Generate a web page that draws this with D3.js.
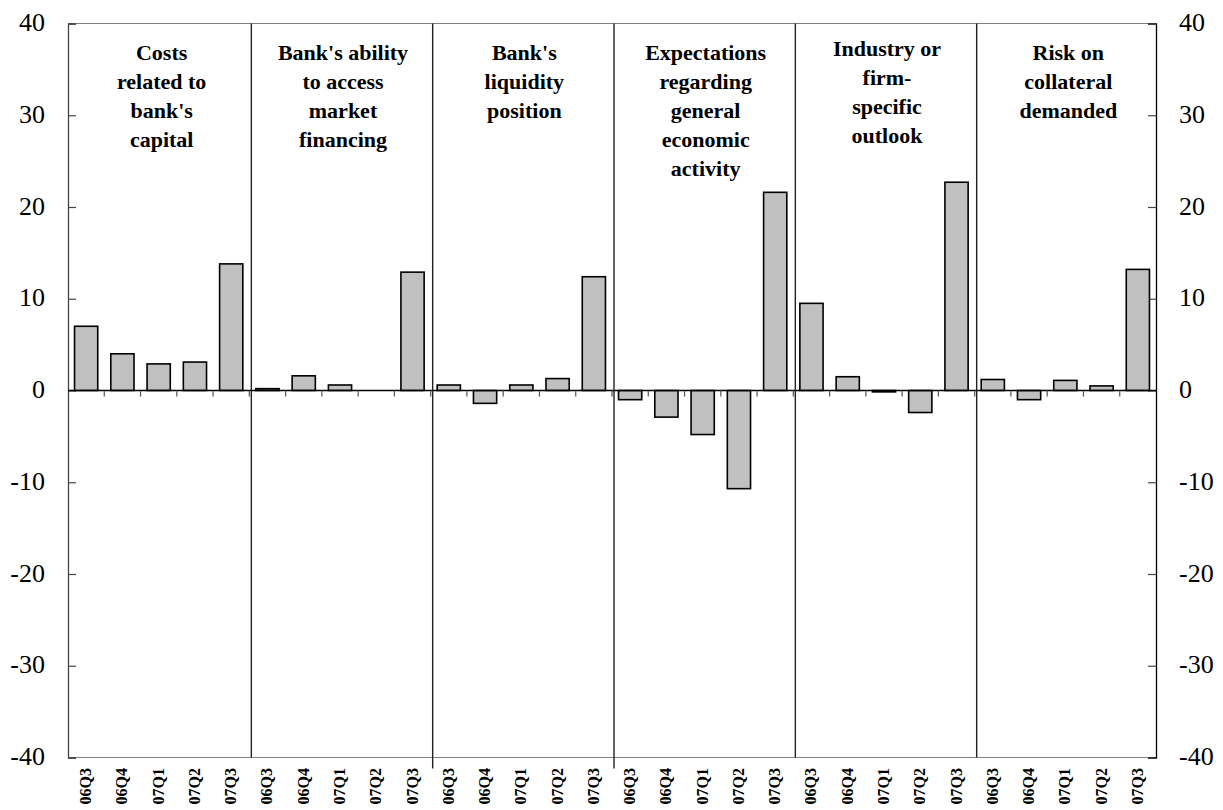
<!DOCTYPE html>
<html>
<head>
<meta charset="utf-8">
<script src="https://cdn.jsdelivr.net/npm/d3@7"></script>
<style>
  html, body { margin: 0; padding: 0; background: #fff; }
  #wrap { position: relative; width: 1223px; height: 810px; overflow: hidden;
          font-family: 'Liberation Serif', 'Times New Roman', serif; color: #000; }
  #wrap svg { position: absolute; left: 0; top: 0; display: block; }
  .lbl { position: absolute; white-space: nowrap; line-height: 1; font-family: 'Liberation Serif', 'Times New Roman', serif; }
</style>
</head>
<body>
<div id="wrap"><svg id="chart" width="1223" height="810"></svg></div>
<script>
// ---- Data ----
const groups = [
  "Costs related to bank's capital",
  "Bank's ability to access market financing",
  "Bank's liquidity position",
  "Expectations regarding general economic activity",
  "Industry or firm-specific outlook",
  "Risk on collateral demanded"
];
const groupTitleLines = [
  ["Costs", "related to", "bank's", "capital"],
  ["Bank's ability", "to access", "market", "financing"],
  ["Bank's", "liquidity", "position"],
  ["Expectations", "regarding", "general", "economic", "activity"],
  ["Industry or", "firm-", "specific", "outlook"],
  ["Risk on", "collateral", "demanded"]
];
const quarters = ["06Q3", "06Q4", "07Q1", "07Q2", "07Q3"];
const costsCapital      = [7.0, 4.0, 2.9, 3.1, 13.8];
const marketFinancing   = [0.2, 1.6, 0.6, 0.0, 12.9];
const liquidityPosition = [0.6, -1.4, 0.6, 1.3, 12.4];
const economicActivity  = [-1.0, -2.9, -4.8, -10.7, 21.6];
const industryOutlook   = [9.5, 1.5, -0.15, -2.4, 22.7];
const collateralRisk    = [1.2, -1.0, 1.1, 0.5, 13.2];
const yTicks = [-40, -30, -20, -10, 0, 10, 20, 30, 40];

const seriesByGroup = [costsCapital, marketFinancing, liquidityPosition,
                       economicActivity, industryOutlook, collateralRisk];

// build flat table
const rows = [];
seriesByGroup.forEach((vals, gi) => {
  vals.forEach((v, qi) => {
    rows.push({ key: gi + "-" + qi, group: gi, quarter: quarters[qi], value: v });
  });
});

// ---- Layout ----
const svg = d3.select("#chart");
const wrap = d3.select("#wrap");
const pLeft = 68, pRight = 1156, pTop = 23.5, pBottom = 757.5;

const x = d3.scaleBand()
  .domain(rows.map(d => d.key))
  .range([pLeft, pRight])
  .paddingInner(0.36)
  .paddingOuter(0.18);
const xb = d3.scaleBand().domain(rows.map(d => d.key)).range([pLeft, pRight]); // full bands
const y = d3.scaleLinear().domain([-40, 40]).range([pBottom, pTop]);

const fmt = d => String(d);
const BASE = 0.8375; // baseline offset (em) for Liberation Serif with line-height 1

// frame top & bottom
svg.append("line").attr("x1", pLeft).attr("x2", pRight).attr("y1", y(40)).attr("y2", y(40))
  .attr("stroke", "#808080").attr("stroke-width", 1.2);
svg.append("line").attr("x1", pLeft).attr("x2", pRight).attr("y1", y(-40)).attr("y2", y(-40))
  .attr("stroke", "#808080").attr("stroke-width", 1.2);

// axes (lines + ticks via d3.axis; labels as HTML text)
const gL = svg.append("g").attr("transform", `translate(${pLeft},0)`)
  .call(d3.axisLeft(y).tickValues(yTicks).tickSize(-8).tickFormat(""));
gL.select(".domain").attr("stroke", "#444").attr("stroke-width", 1.3);
gL.selectAll(".tick line").attr("stroke", "#444").attr("stroke-width", 1.2);

const gR = svg.append("g").attr("transform", `translate(${pRight},0)`)
  .call(d3.axisRight(y).tickValues(yTicks).tickSize(-8).tickFormat(""));
gR.select(".domain").attr("stroke", "#000").attr("stroke-width", 1.3);
gR.selectAll(".tick line").attr("stroke", "#444").attr("stroke-width", 1.2);

const yFs = 26;
wrap.selectAll("div.yl").data(yTicks).join("div")
  .attr("class", "lbl yl")
  .style("font-size", yFs + "px")
  .style("right", (1223 - (pLeft - 23)) + "px")
  .style("top", d => (y(d) - 0.5175 * yFs) + "px")
  .style("text-align", "right")
  .text(fmt);
wrap.selectAll("div.yr").data(yTicks).join("div")
  .attr("class", "lbl yr")
  .style("font-size", yFs + "px")
  .style("left", (pRight + 23) + "px")
  .style("top", d => (y(d) - 0.5175 * yFs) + "px")
  .text(fmt);

// bars
svg.append("g").selectAll("rect").data(rows).join("rect")
  .attr("x", d => x(d.key))
  .attr("width", x.bandwidth())
  .attr("y", d => y(Math.max(0, d.value)))
  .attr("height", d => Math.abs(y(d.value) - y(0)))
  .attr("fill", "#c0c0c0")
  .attr("stroke", "#000")
  .attr("stroke-width", 1.6);

// zero line + category ticks
svg.append("line").attr("x1", pLeft).attr("x2", pRight).attr("y1", y(0)).attr("y2", y(0))
  .attr("stroke", "#000").attr("stroke-width", 1.4);
svg.append("g").selectAll("line").data(rows.slice(1)).join("line")
  .attr("x1", d => xb(d.key)).attr("x2", d => xb(d.key))
  .attr("y1", y(0)).attr("y2", y(0) + 6)
  .attr("stroke", "#555").attr("stroke-width", 1.2);

// group separators
const sepKeys = groups.slice(1).map((g, i) => (i + 1) + "-0");
svg.append("g").selectAll("line").data(sepKeys).join("line")
  .attr("x1", d => xb(d) + 2).attr("x2", d => xb(d) + 2)
  .attr("y1", y(40))
  .attr("y2", (d, i) => (i === 1 || i === 2) ? y(-40) + 11 : y(-40))
  .attr("stroke", "#222").attr("stroke-width", 1.4);

// group titles
const tFs = 22;
groupTitleLines.forEach((lines, gi) => {
  const k0 = gi + "-0", k4 = gi + "-4";
  const cx = (xb(k0) + xb(k4) + xb.bandwidth()) / 2 + 3;
  lines.forEach((ln, li) => {
    const base = (gi === 4 ? 56 : 60) + li * 29.2;
    wrap.append("div").attr("class", "lbl gt")
      .style("font-size", tFs + "px").style("font-weight", "bold")
      .style("left", cx + "px")
      .style("top", (base - BASE * tFs) + "px")
      .style("transform", "translateX(-50%)")
      .text(ln);
  });
});

// category labels (rotated, reading upward)
const cFs = 16;
wrap.selectAll("div.cl").data(rows).join("div")
  .attr("class", "lbl cl")
  .style("font-size", cFs + "px").style("font-weight", "bold")
  .style("left", d => (xb(d.key) + xb.bandwidth() / 2) + "px")
  .style("top", (y(-40) + 10) + "px")
  .style("transform-origin", "0 0")
  .style("transform", "rotate(-90deg) translate(-100%, -50%)")
  .text(d => d.quarter);
</script>
</body>
</html>
